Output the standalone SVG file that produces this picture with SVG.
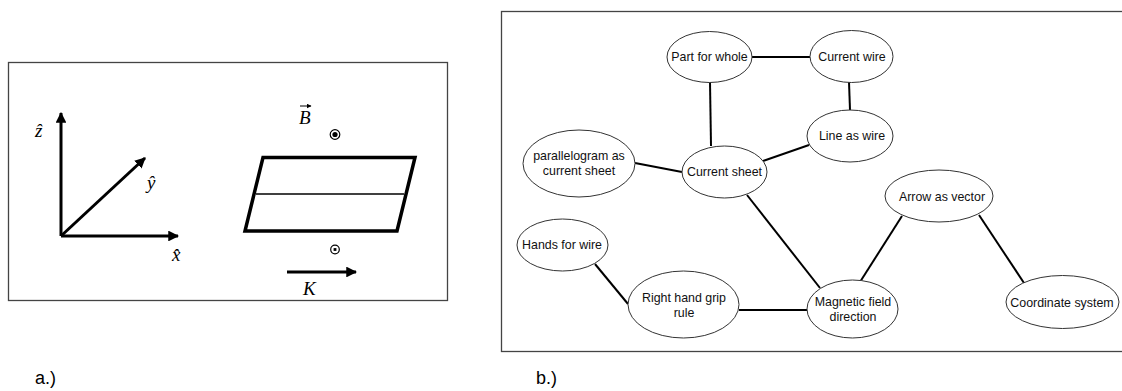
<svg xmlns="http://www.w3.org/2000/svg" width="1122" height="391" viewBox="0 0 1122 391">
<defs>
<style>
.frame{fill:none;stroke:#444;stroke-width:1.3}
.ax{stroke:#000;stroke-width:3;fill:none}
.math{font-family:"Liberation Serif",serif;font-style:italic;fill:#000}
.node ellipse{fill:#fff;stroke:#333;stroke-width:1}
.node text{font-family:"Liberation Sans",Arial,sans-serif;font-size:12.4px;fill:#111;text-anchor:middle}
.edges line{stroke:#000;stroke-width:2}
.cap{font-family:"Liberation Sans",Arial,sans-serif;font-size:18px;fill:#000}
</style>
<marker id="ah" viewBox="0 0 10 10" refX="9" refY="5" markerWidth="3.6" markerHeight="3.6" orient="auto" markerUnits="strokeWidth">
<path d="M0,0 L10,5 L0,10 z" fill="#000"/>
</marker>
<marker id="ahs" viewBox="0 0 10 10" refX="9" refY="5" markerWidth="5" markerHeight="5" orient="auto" markerUnits="strokeWidth">
<path d="M0,0 L10,5 L0,10 z" fill="#000"/>
</marker>
</defs>
<rect width="1122" height="391" fill="#fff"/>

<!-- Panel a -->
<g id="panel-a">
<rect class="frame" x="8.5" y="62.5" width="439" height="238"/>
<g id="axes">
<line class="ax" x1="61" y1="236" x2="61" y2="113" marker-end="url(#ah)"/>
<line class="ax" x1="61" y1="236" x2="178" y2="236" marker-end="url(#ah)"/>
<line class="ax" x1="61" y1="236" x2="145" y2="158" marker-end="url(#ah)"/>
<text class="math" x="35" y="137" font-size="19">ẑ</text>
<text class="math" x="147" y="189" font-size="19">ŷ</text>
<text class="math" x="172" y="261" font-size="19">x̂</text>
</g>
<g id="sheet">
<polygon points="263,157.5 415,157.5 397,231 245,231" fill="none" stroke="#000" stroke-width="3.5" stroke-linejoin="miter"/>
<line x1="256" y1="194" x2="404" y2="194" stroke="#000" stroke-width="1.3"/>
<text class="math" x="299" y="124" font-size="19">B</text>
<line x1="300" y1="106" x2="311" y2="106" stroke="#000" stroke-width="1" marker-end="url(#ahs)"/>
<circle cx="335" cy="134.5" r="4.8" fill="none" stroke="#000" stroke-width="1.2"/>
<circle cx="335" cy="134.5" r="2.6" fill="#000"/>
<circle cx="335" cy="249.5" r="4.3" fill="none" stroke="#000" stroke-width="1.2"/>
<rect x="333.6" y="248.1" width="2.8" height="2.8" fill="#000"/>
<line class="ax" x1="287" y1="272" x2="356" y2="272" stroke-width="2.6" marker-end="url(#ah)"/>
<text class="math" x="303" y="295" font-size="19">K</text>
</g>
<text class="cap" x="35" y="384">a.)</text>
</g>

<!-- Panel b -->
<rect class="frame" x="501.5" y="11.5" width="640" height="340"/>

<g id="connectors" class="edges">
<line x1="752" y1="57" x2="810" y2="57"/>
<line x1="710" y1="82" x2="711" y2="146"/>
<line x1="849" y1="82" x2="850" y2="110"/>
<line x1="763" y1="161" x2="809" y2="145"/>
<line x1="635" y1="163" x2="682" y2="172"/>
<line x1="747" y1="195" x2="820" y2="288"/>
<line x1="595" y1="264" x2="628" y2="304"/>
<line x1="739" y1="310" x2="807" y2="310"/>
<line x1="902" y1="216" x2="860" y2="282"/>
<line x1="979" y1="215" x2="1024" y2="283"/>
</g>

<g id="n-part" class="node"><ellipse cx="709.5" cy="57" rx="42.5" ry="25.5"/><text x="709.5" y="61">Part for whole</text></g>
<g id="n-wire" class="node"><ellipse cx="851.5" cy="56.5" rx="41.5" ry="26"/><text x="852" y="61">Current wire</text></g>
<g id="n-line" class="node"><ellipse cx="850" cy="136" rx="43" ry="26"/><text x="852" y="140">Line as wire</text></g>
<g id="n-para" class="node"><ellipse cx="579" cy="163.5" rx="56" ry="33.5"/><text x="579" y="160">parallelogram as</text><text x="579" y="175">current sheet</text></g>
<g id="n-sheet" class="node"><ellipse cx="724.5" cy="172" rx="42.5" ry="26"/><text x="724.5" y="176">Current sheet</text></g>
<g id="n-hands" class="node"><ellipse cx="562.5" cy="245" rx="45.5" ry="26"/><text x="562" y="249">Hands for wire</text></g>
<g id="n-grip" class="node"><ellipse cx="683.5" cy="304.5" rx="55.5" ry="33.5"/><text x="684" y="302">Right hand grip</text><text x="684" y="317">rule</text></g>
<g id="n-mag" class="node"><ellipse cx="852.5" cy="309" rx="45.5" ry="29"/><text x="853" y="306">Magnetic field</text><text x="853" y="321">direction</text></g>
<g id="n-arrow" class="node"><ellipse cx="939" cy="196" rx="54" ry="26"/><text x="942" y="201">Arrow as vector</text></g>
<g id="n-coord" class="node"><ellipse cx="1062.5" cy="302" rx="56.5" ry="26.5"/><text x="1062" y="307">Coordinate system</text></g>

<text class="cap" x="536" y="384">b.)</text>
</svg>
